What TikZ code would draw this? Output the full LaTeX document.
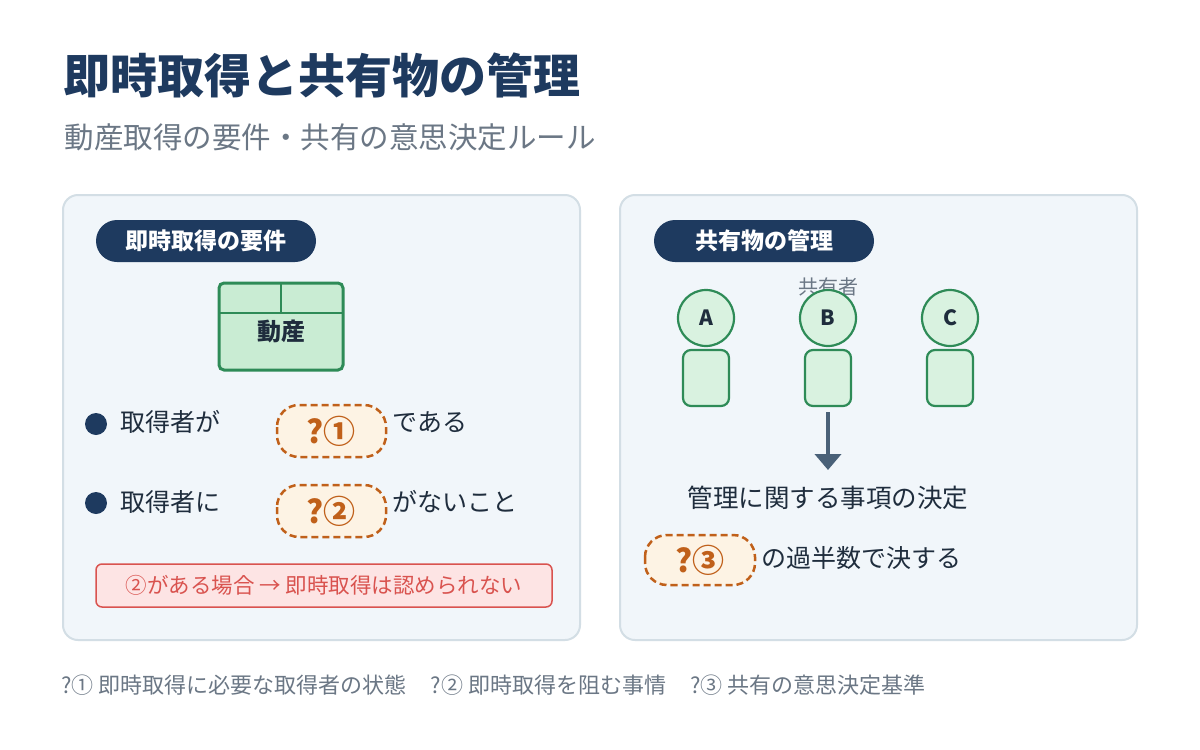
\documentclass[tikz,border=0pt]{standalone}
\usepackage{fontspec}
\setmainfont{Noto Sans CJK JP}
\usetikzlibrary{arrows.meta}
\definecolor{navy}{HTML}{1E3A5F}
\definecolor{panelbg}{HTML}{F1F6FA}
\definecolor{panelbd}{HTML}{D3DEE5}
\definecolor{grn}{HTML}{2E8B57}
\definecolor{grnfill}{HTML}{C9ECD3}
\definecolor{grnlight}{HTML}{D9F2E0}
\definecolor{org}{HTML}{C0601A}
\definecolor{orgfill}{HTML}{FDF3E4}
\definecolor{redc}{HTML}{D9534F}
\definecolor{redfill}{HTML}{FDE4E4}
\definecolor{txt}{HTML}{1F2D3D}
\definecolor{gry}{HTML}{6B7785}
\definecolor{arr}{HTML}{4A6178}
\tikzset{
  panel/.style={draw=panelbd,fill=panelbg,line width=2pt,rounded corners=15pt},
  pill/.style={fill=navy,rounded corners=21pt},
  pilltext/.style={text=white,font=\fontsize{23}{27}\selectfont\bfseries},
  qbox/.style={draw=org,fill=orgfill,dashed,dash pattern=on 7pt off 4pt,line width=2.5pt,rounded corners=22pt},
  qtext/.style={text=org,font=\fontsize{32}{36}\selectfont\bfseries},
  body/.style={font=\fontsize{25}{29}\selectfont,text=txt,anchor=west},
  person/.style={draw=grn,fill=grnlight,line width=2.2pt},
}
\begin{document}
\begin{tikzpicture}[x=1pt,y=-1pt]
\path[use as bounding box,fill=white] (0,0) rectangle (1200,750);
\node[anchor=west,text=navy,font=\fontsize{47}{54}\selectfont\bfseries] (title) at (60,75) {即時取得と共有物の管理};
\node[anchor=west,text=gry,font=\fontsize{29.5}{34}\selectfont] (sub) at (61,137) {動産取得の要件・共有の意思決定ルール};
% panels
\draw[panel] (63,195) rectangle (580,640);
\draw[panel] (620,195) rectangle (1137,640);
\fill[pill] (96,220) rectangle (316,262);
\node[pilltext] (lp) at (206,241) {即時取得の要件};
\fill[pill] (654,220) rectangle (874,262);
\node[pilltext] (rp) at (764,241) {共有物の管理};
% movable
\draw[draw=grn,fill=grnfill,line width=3pt,rounded corners=5pt] (219,283) rectangle (343,370);
\draw[grn,line width=2pt] (219,313) -- (343,313) (281,283) -- (281,313);
\node[text=txt,font=\fontsize{24}{28}\selectfont\bfseries] (dosan) at (281,331) {動産};
% bullets
\fill[navy] (96,424) circle (11);
\node[body] (b1) at (117,422) {取得者が};
\draw[qbox] (277,405) rectangle (386,457);
\node[qtext] (q1) at (331,431) {?①};
\node[body] (b1e) at (389,422) {である};
\fill[navy] (96,503) circle (11);
\node[body] (b2) at (117,502) {取得者に};
\draw[qbox] (277,485) rectangle (386,537);
\node[qtext] (q2) at (331,511) {?②};
\node[body] (b2e) at (389,502) {がないこと};
\draw[draw=redc,fill=redfill,line width=1.5pt,rounded corners=6pt] (96,564) rectangle (552,607);
\node[text=redc,font=\fontsize{21.5}{25}\selectfont] (warn) at (324,585) {②がある場合 → 即時取得は認められない};
% co-owners
\node[text=gry,font=\fontsize{20}{24}\selectfont] (kyo) at (828,287) {共有者};
\foreach \n/\x in {A/706,B/828,C/950}{
  \draw[person] (\x,318) circle (28);
  \node[text=txt,font=\fontsize{21}{25}\selectfont\bfseries] (h\n) at (\x,318) {\n};
  \draw[person,rounded corners=8pt] (\x-23,350) rectangle (\x+23,406);
  \coordinate (body\n) at (\x,412);
}
\coordinate (arrend) at (828,470);
\draw[arr,line width=4pt,-{Triangle[length=16pt,width=26pt]}] (bodyB) -- (arrend);
\node[text=txt,font=\fontsize{25.5}{30}\selectfont] (kanri) at (828,498) {管理に関する事項の決定};
\draw[qbox] (645,535) rectangle (755,585);
\node[qtext] (q3) at (700,560) {?③};
\node[body] (b3) at (758,558) {の過半数で決する};
\node[anchor=west,text=gry,font=\fontsize{22}{26}\selectfont] (foot) at (58,685) {?① 即時取得に必要な取得者の状態\hspace{24pt}?② 即時取得を阻む事情\hspace{24pt}?③ 共有の意思決定基準};
\end{tikzpicture}
\end{document}
